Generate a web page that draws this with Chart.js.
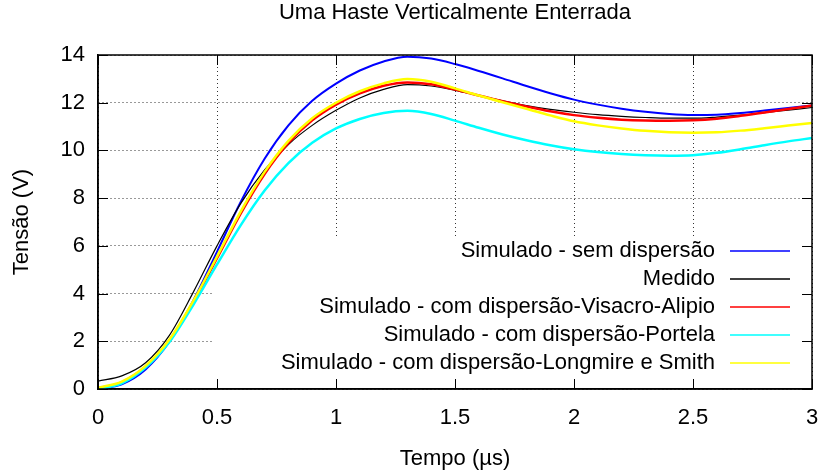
<!DOCTYPE html>
<html>
<head>
<meta charset="utf-8">
<script src="https://cdn.jsdelivr.net/npm/chart.js@4.4.0/dist/chart.umd.min.js"></script>
<style>
  html, body { margin: 0; padding: 0; background: #fff; }
  #wrap { width: 820px; height: 474px; }
</style>
</head>
<body>
<div id="wrap"><canvas id="chart" width="820" height="474"></canvas></div>
<script>
// Uma haste verticalmente enterrada - tensao x tempo

const tempo = [0, 0.1, 0.2, 0.3, 0.4, 0.5, 0.6, 0.7, 0.8, 0.9, 1.0,
    1.1, 1.2, 1.3, 1.4, 1.5, 1.6, 1.7, 1.8, 1.9, 2.0,
    2.1, 2.2, 2.3, 2.4, 2.5, 2.6, 2.7, 2.8, 2.9, 3.0];

const semDispersao = [0, 0.2, 0.82, 1.98, 3.7, 5.75, 7.85, 9.65, 11.05, 12.08, 12.8,
    13.35, 13.73, 13.93, 13.85, 13.62, 13.33, 13.02, 12.7, 12.4, 12.13,
    11.92, 11.75, 11.62, 11.53, 11.49, 11.5, 11.57, 11.67, 11.78, 11.88];

const medido = [0.33, 0.55, 1.1, 2.25, 4.05, 6.0, 7.78, 9.18, 10.25, 11.05, 11.68,
    12.2, 12.56, 12.76, 12.7, 12.52, 12.3, 12.08, 11.88, 11.72, 11.6,
    11.5, 11.43, 11.38, 11.35, 11.35, 11.4, 11.48, 11.58, 11.69, 11.8];

const visacroAlipio = [0.03, 0.28, 0.93, 2.03, 3.63, 5.48, 7.36, 9.01, 10.31, 11.26, 11.92,
    12.39, 12.71, 12.85, 12.77, 12.55, 12.3, 12.06, 11.84, 11.64, 11.48,
    11.37, 11.29, 11.25, 11.24, 11.26, 11.33, 11.45, 11.59, 11.74, 11.88];

const portela = [0, 0.24, 0.9, 1.97, 3.52, 5.22, 6.87, 8.32, 9.47, 10.32, 10.92,
    11.32, 11.57, 11.66, 11.53, 11.25, 10.95, 10.67, 10.43, 10.22, 10.05,
    9.93, 9.85, 9.8, 9.78, 9.8, 9.9, 10.05, 10.22, 10.38, 10.52];

const longmireSmith = [0.05, 0.31, 0.97, 2.07, 3.68, 5.55, 7.45, 9.1, 10.4, 11.35, 12.0,
    12.48, 12.81, 12.99, 12.88, 12.6, 12.3, 12.02, 11.75, 11.47, 11.22,
    11.05, 10.92, 10.82, 10.76, 10.74, 10.76, 10.83, 10.93, 11.04, 11.15];

const xTicks = [0, 0.5, 1, 1.5, 2, 2.5, 3];
const yTicks = [0, 2, 4, 6, 8, 10, 12, 14];

const FONT = '"Liberation Sans", Arial, Helvetica, sans-serif';
const FS = 22;

function pts(ys) {
    return tempo.map((t, i) => ({ x: t, y: ys[i] }));
}

function serie(label, ys, color, width, order) {
    return {
        label: label,
        data: pts(ys),
        borderColor: color,
        backgroundColor: color,
        borderWidth: width,
        pointRadius: 0,
        fill: false,
        cubicInterpolationMode: 'monotone',
        order: order
    };
}

// gnuplot style: opaque key, mirrored inward ticks, closed frame
const gnuplotFrame = {
    id: 'gnuplotFrame',
    beforeDatasetsDraw(chart) {
        const { ctx, chartArea: a } = chart;
        ctx.save();
        ctx.fillStyle = '#fff';
        ctx.fillRect(a.left + 115, a.top + 182, a.right - a.left - 115, a.bottom - a.top - 195);
        ctx.restore();
    },
    afterDatasetsDraw(chart) {
        const { ctx, chartArea: a, scales } = chart;
        const tick = 10;
        ctx.save();
        ctx.strokeStyle = '#000';
        ctx.lineWidth = 1;
        ctx.beginPath();
        xTicks.forEach(v => {
            const px = Math.round(scales.x.getPixelForValue(v)) + 0.5;
            ctx.moveTo(px, a.bottom); ctx.lineTo(px, a.bottom - tick);
            ctx.moveTo(px, a.top); ctx.lineTo(px, a.top + tick);
        });
        yTicks.forEach(v => {
            const py = Math.round(scales.y.getPixelForValue(v)) + 0.5;
            ctx.moveTo(a.left, py); ctx.lineTo(a.left + tick, py);
            ctx.moveTo(a.right, py); ctx.lineTo(a.right - tick, py);
        });
        ctx.stroke();
        ctx.lineWidth = 1.5;
        ctx.strokeRect(a.left, a.top, a.right - a.left, a.bottom - a.top);

        // key
        ctx.font = FS + 'px ' + FONT;
        ctx.textAlign = 'right';
        ctx.textBaseline = 'middle';
        chart.data.datasets.forEach((ds, i) => {
            const y = a.top + 196 + i * 28;
            ctx.fillStyle = '#000';
            ctx.fillText(ds.label, a.right - 97, y);
            ctx.strokeStyle = ds.borderColor;
            ctx.lineWidth = 1.5;
            ctx.beginPath();
            ctx.moveTo(a.right - 82, y);
            ctx.lineTo(a.right - 22, y);
            ctx.stroke();
        });
        ctx.restore();
    }
};

new Chart(document.getElementById('chart'), {
    type: 'line',
    data: {
        datasets: [
            serie('Simulado - sem dispersão', semDispersao, '#0000ff', 2, 5),
            serie('Medido', medido, '#000000', 1.2, 4),
            serie('Simulado - com dispersão-Visacro-Alipio', visacroAlipio, '#ff0000', 2.5, 3),
            serie('Simulado - com dispersão-Portela', portela, '#00ffff', 2.5, 2),
            serie('Simulado - com dispersão-Longmire e Smith', longmireSmith, '#ffff00', 2.5, 1)
        ]
    },
    options: {
        responsive: false,
        animation: false,
        devicePixelRatio: 1,
        layout: { padding: 0 },
        plugins: {
            legend: { display: false },
            tooltip: { enabled: false },
            title: {
                display: true,
                text: 'Uma Haste Verticalmente Enterrada',
                color: '#000',
                fullSize: false,
                font: { family: FONT, size: FS, weight: 'normal' },
                padding: { top: 0, bottom: 28.6 }
            }
        },
        scales: {
            x: {
                type: 'linear',
                min: 0,
                max: 3,
                afterBuildTicks: s => { s.ticks = xTicks.map(v => ({ value: v })); },
                afterFit: s => { s.height = 85; s.paddingRight = 8; s.paddingLeft = 0; },
                grid: { color: 'rgba(0,0,0,0.8)', lineWidth: 1, drawTicks: false },
                border: { display: true, color: '#000', width: 1.5, dash: [1, 3] },
                ticks: { color: '#000', padding: 16, maxRotation: 0, callback: v => String(v),
                    font: { family: FONT, size: FS } },
                title: {
                    display: true,
                    text: 'Tempo (µs)',
                    color: '#000',
                    font: { family: FONT, size: FS },
                    padding: { top: 0, bottom: 2 }
                }
            },
            y: {
                min: 0,
                max: 14,
                afterBuildTicks: s => { s.ticks = yTicks.map(v => ({ value: v })); },
                afterFit: s => { s.width = 98; },
                grid: { color: 'rgba(0,0,0,0.8)', lineWidth: 1, drawTicks: false },
                border: { display: true, color: '#000', width: 1.5, dash: [1, 3] },
                ticks: { color: '#000', padding: 13, callback: v => String(v),
                    font: { family: FONT, size: FS } },
                title: {
                    display: true,
                    text: 'Tensão (V)',
                    color: '#000',
                    font: { family: FONT, size: FS },
                    padding: { top: 9, bottom: 0 }
                }
            }
        }
    },
    plugins: [gnuplotFrame]
});
</script>
</body>
</html>
